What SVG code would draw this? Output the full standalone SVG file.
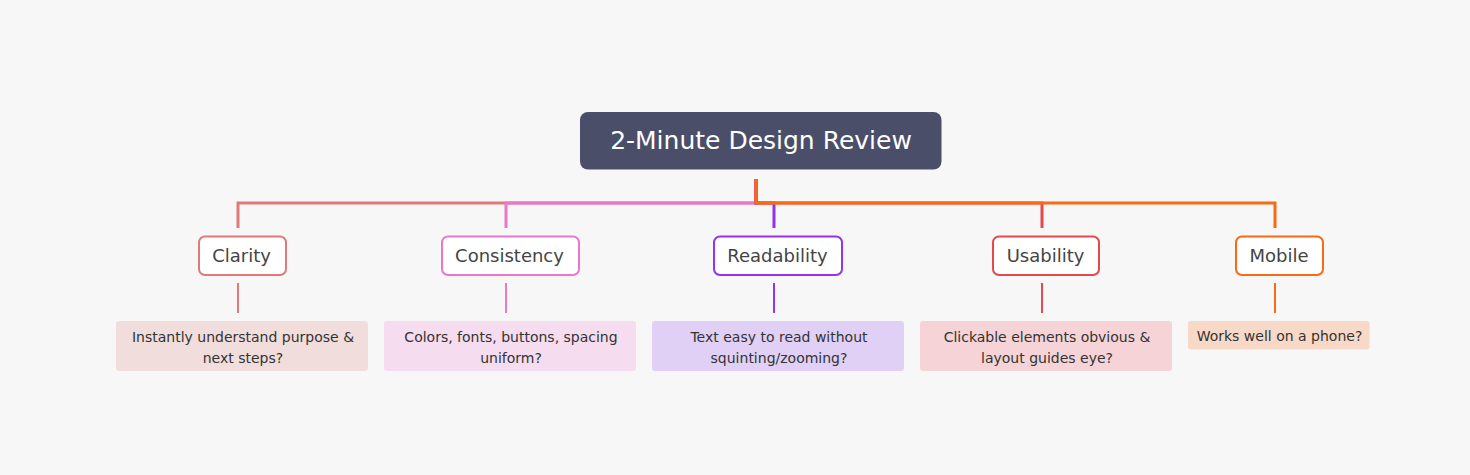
<svg xmlns="http://www.w3.org/2000/svg" width="1470" height="475" viewBox="0 0 1470 475">
<style>
  text { font-family: "DejaVu Sans", "Noto Sans", sans-serif; text-anchor: middle; }
  .root-box { fill: #4a4e69; }
  .root-text { fill: #ffffff; font-size: 25px; }
  .node-box { fill: #ffffff; stroke-width: 2; }
  .node-text { fill: #444444; font-size: 18px; }
  .leaf-text { fill: #333333; font-size: 14px; }
  .conn { fill: none; stroke-width: 3; }
  .leafconn { fill: none; stroke-width: 2; }
</style>
<rect x="0" y="0" width="1470" height="475" fill="#f7f7f7"/>
<g id="connectors">
  <path class="conn" stroke="#e07a7a" d="M756,179 V203 H238 V228"/>
  <path class="conn" stroke="#e879c9" d="M756,179 V203 H506 V228"/>
  <path class="conn" stroke="#9333ea" d="M756,179 V203 H774 V228"/>
  <path class="conn" stroke="#e5484d" d="M756,179 V203 H1042 V228"/>
  <path class="conn" stroke="#f76b15" d="M756,179 V203 H1275 V228"/>
  <line class="leafconn" stroke="#e07a7a" x1="238" y1="283" x2="238" y2="313"/>
  <line class="leafconn" stroke="#e879c9" x1="506" y1="283" x2="506" y2="313"/>
  <line class="leafconn" stroke="#9333ea" x1="774" y1="283" x2="774" y2="313"/>
  <line class="leafconn" stroke="#e5484d" x1="1042" y1="283" x2="1042" y2="313"/>
  <line class="leafconn" stroke="#f76b15" x1="1275" y1="283" x2="1275" y2="313"/>
</g>
<g id="root">
  <rect class="root-box" x="580" y="112" width="361.5" height="57.5" rx="8"/>
  <text class="root-text" x="761" y="149">2-Minute Design Review</text>
</g>
<g id="clarity">
  <rect class="node-box" stroke="#e07a7a" x="199" y="236.5" width="87" height="38.5" rx="6"/>
  <text class="node-text" x="241.5" y="262">Clarity</text>
</g>
<g id="consistency">
  <rect class="node-box" stroke="#e879c9" x="442" y="236.5" width="137" height="38.5" rx="6"/>
  <text class="node-text" x="509.5" y="262">Consistency</text>
</g>
<g id="readability">
  <rect class="node-box" stroke="#9333ea" x="714" y="236.5" width="128" height="38.5" rx="6"/>
  <text class="node-text" x="777.5" y="262">Readability</text>
</g>
<g id="usability">
  <rect class="node-box" stroke="#e5484d" x="993" y="236.5" width="106" height="38.5" rx="6"/>
  <text class="node-text" x="1045.5" y="262">Usability</text>
</g>
<g id="mobile">
  <rect class="node-box" stroke="#f76b15" x="1236" y="236.5" width="87" height="38.5" rx="6"/>
  <text class="node-text" x="1279" y="262">Mobile</text>
</g>
<g id="clarity-leaf">
  <rect x="116" y="321" width="252" height="50" rx="3" fill="#f2dddd"/>
  <text class="leaf-text" x="243" y="342">Instantly understand purpose &amp;</text>
  <text class="leaf-text" x="243" y="363">next steps?</text>
</g>
<g id="consistency-leaf">
  <rect x="384" y="321" width="252" height="50" rx="3" fill="#f5dcee"/>
  <text class="leaf-text" x="511" y="342">Colors, fonts, buttons, spacing</text>
  <text class="leaf-text" x="511" y="363">uniform?</text>
</g>
<g id="readability-leaf">
  <rect x="652" y="321" width="252" height="50" rx="3" fill="#e0d0f5"/>
  <text class="leaf-text" x="779" y="342">Text easy to read without</text>
  <text class="leaf-text" x="779" y="363">squinting/zooming?</text>
</g>
<g id="usability-leaf">
  <rect x="920" y="321" width="252" height="50" rx="3" fill="#f5d3d6"/>
  <text class="leaf-text" x="1047" y="342">Clickable elements obvious &amp;</text>
  <text class="leaf-text" x="1047" y="363">layout guides eye?</text>
</g>
<g id="mobile-leaf">
  <rect x="1188" y="321" width="181.5" height="28.5" rx="3" fill="#f8d8c6"/>
  <text class="leaf-text" x="1279.5" y="341">Works well on a phone?</text>
</g>
</svg>
